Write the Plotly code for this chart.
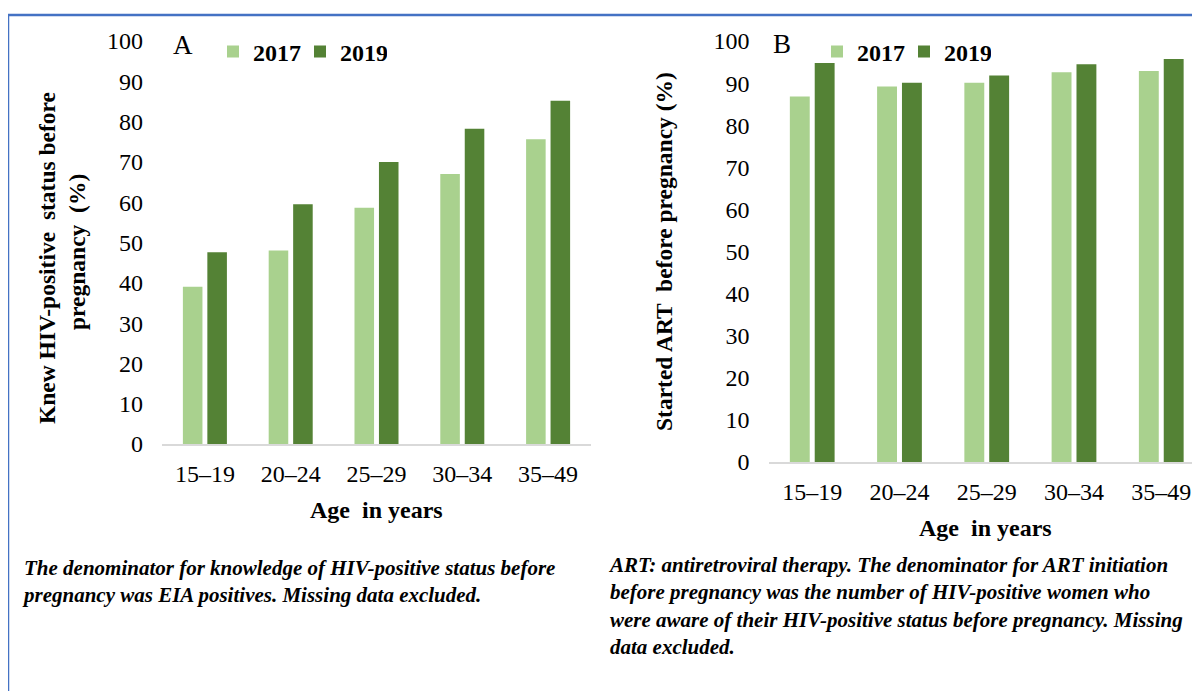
import plotly.graph_objects as go

# Data
ages = ['15–19', '20–24', '25–29', '30–34', '35–49']
knew_2017 = [39.0, 48.0, 58.6, 67.0, 75.6]
knew_2019 = [47.6, 59.5, 70.0, 78.2, 85.2]
art_2017 = [86.8, 89.2, 90.1, 92.6, 92.9]
art_2019 = [94.8, 90.1, 91.8, 94.5, 95.7]
years = ['2017', '2019']

W, H = 1200, 691
OFF = 8  # the page body adds an 8px margin around the figure
LIGHT = '#A9D18E'
DARK = '#548235'
FONT = 'Liberation Serif, Times New Roman, serif'


# screen pixel -> paper fraction
def fx(px):
    return (px - OFF) / W


def fy(py):
    return 1 - (py - OFF) / H


data = [
    go.Bar(x=ages, y=knew_2017, name=years[0], marker=dict(color=LIGHT, line=dict(width=0)),
           xaxis='x', yaxis='y', legend='legend'),
    go.Bar(x=ages, y=knew_2019, name=years[1], marker=dict(color=DARK, line=dict(width=0)),
           xaxis='x', yaxis='y', legend='legend'),
    go.Bar(x=ages, y=art_2017, name=years[0], marker=dict(color=LIGHT, line=dict(width=0)),
           xaxis='x2', yaxis='y2', legend='legend2'),
    go.Bar(x=ages, y=art_2019, name=years[1], marker=dict(color=DARK, line=dict(width=0)),
           xaxis='x2', yaxis='y2', legend='legend2'),
]

xcommon = dict(showline=True, linecolor='#d9d9d9', linewidth=1.5, ticks='',
               showgrid=False, zeroline=False, tickfont=dict(size=24, color='black'),
               ticklabelstandoff=7, automargin=False)
ycommon = dict(range=[0, 100], dtick=10, showline=False, showgrid=False, zeroline=False,
               ticks='', tickfont=dict(size=24, color='black'), ticklabelstandoff=18,
               automargin=False)

legcommon = dict(orientation='h', yanchor='middle', xanchor='left',
                 font=dict(size=24, color='black', weight='bold'),
                 bgcolor='rgba(0,0,0,0)', traceorder='normal',
                 entrywidth=42, entrywidthmode='pixels')

title_font = dict(family=FONT, size=24, color='black', weight='bold')
ytitle_font = dict(family=FONT, size=23.5, color='black', weight='bold')
cap_font = dict(family=FONT, size=21, color='black', weight='bold', style='italic')
label_font = dict(family=FONT, size=27, color='black')
P = dict(xref='paper', yref='paper', showarrow=False)

annotations = [
    dict(text='A', x=fx(171), y=fy(45), xanchor='left', yanchor='middle', font=label_font, **P),
    dict(text='B', x=fx(771), y=fy(44), xanchor='left', yanchor='middle', font=label_font, **P),
    dict(text='Age  in years', x=fx(376.5), y=fy(510), xanchor='center', yanchor='middle',
         font=title_font, **P),
    dict(text='Age  in years', x=fx(986), y=fy(528), xanchor='center', yanchor='middle',
         font=title_font, **P),
    dict(text='Knew HIV-positive  status before', x=fx(47), y=fy(258),
         xanchor='center', yanchor='middle', textangle=-90, font=ytitle_font, **P),
    dict(text='pregnancy  (%)', x=fx(77), y=fy(252),
         xanchor='center', yanchor='middle', textangle=-90, font=ytitle_font, **P),
    dict(text='Started ART  before pregnancy (%)', x=fx(664), y=fy(252),
         xanchor='center', yanchor='middle', textangle=-90, font=ytitle_font, **P),
    dict(text='The denominator for knowledge of HIV-positive status before<br>'
              'pregnancy was EIA positives. Missing data excluded.',
         x=fx(20), y=fy(554), xanchor='left', yanchor='top', align='left',
         font=cap_font, **P),
    dict(text='ART: antiretroviral therapy. The denominator for ART initiation<br>'
              'before pregnancy was the number of HIV-positive women who<br>'
              'were aware of their HIV-positive status before pregnancy. Missing<br>'
              'data excluded.',
         x=fx(606), y=fy(551), xanchor='left', yanchor='top', align='left',
         font=cap_font, **P),
]

border = dict(color='#4472C4', width=2.5)
shapes = [
    dict(type='line', xref='paper', yref='paper', x0=fx(8), y0=fy(15), x1=1, y1=fy(15), line=border),
    dict(type='line', xref='paper', yref='paper', x0=fx(8), y0=fy(15), x1=fx(8), y1=0, line=border),
]

layout = go.Layout(
    width=W, height=H,
    margin=dict(l=0, r=0, t=0, b=0, pad=0, autoexpand=False),
    paper_bgcolor='white', plot_bgcolor='white',
    font=dict(family=FONT, color='black'),
    barmode='group', bargap=0.43, bargroupgap=0.2,
    xaxis=dict(domain=[fx(162), fx(591)], range=[-0.5, 4.5], anchor='y', **xcommon),
    yaxis=dict(domain=[fy(444), fy(41)], anchor='x', **ycommon),
    xaxis2=dict(domain=[fx(768.6), fx(1200)], range=[-0.5, 4.444], anchor='y2', **xcommon),
    yaxis2=dict(domain=[fy(462), fy(41)], anchor='x2', **ycommon),
    legend=dict(x=fx(213), y=fy(52), **legcommon),
    legend2=dict(x=fx(817), y=fy(52), **legcommon),
    annotations=annotations,
    shapes=shapes,
    hovermode='closest',
)

fig = go.Figure(data=data, layout=layout)
fig.write_html('out.html')
